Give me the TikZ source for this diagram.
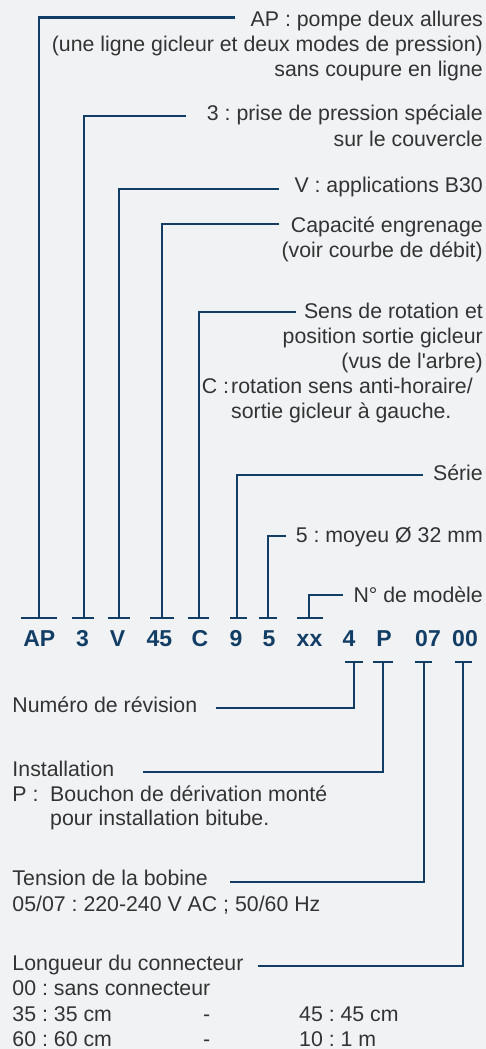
\documentclass[tikz,border=0pt]{standalone}
\usepackage{fontspec}
\setmainfont{Liberation Sans}[Ligatures=TeXOff]
\frenchspacing
\definecolor{bgc}{HTML}{F1F2F4}
\definecolor{navy}{HTML}{123E66}
\definecolor{txt}{HTML}{333333}
\tikzset{
  lead/.style={draw=navy, line width=2.3pt, line join=miter},
  lbl/.style={inner sep=0pt, text=txt, font=\fontsize{21.3}{25}\selectfont\frenchspacing},
  lblr/.style={lbl, anchor=base east},
  lbll/.style={lbl, anchor=base west},
  code/.style={inner sep=0pt, anchor=base, text=navy, font=\fontsize{23}{27}\selectfont\bfseries}
}
\begin{document}
\begin{tikzpicture}[x=1pt,y=-1pt]
\fill[bgc] (0,0) rectangle (486,1049);
\useasboundingbox (0,0) rectangle (486,1049);

% ---- top labels ----
\node[lblr] (lAPa) at (483,26.7) {AP : pompe deux allures};
\node[lblr] (lAPb) at (483,51.7) {(une ligne gicleur et deux modes de pression)};
\node[lblr] (lAPc) at (483,76.7) {sans coupure en ligne};
\node[lblr] (l3a) at (483,120.7) {3 : prise de pression spéciale};
\node[lblr] (l3b) at (483,146.7) {sur le couvercle};
\node[lblr] (lV) at (483,192.7) {V : applications B30};
\node[lblr] (l45a) at (483,232.3) {Capacité engrenage};
\node[lblr] (l45b) at (483,257.3) {(voir courbe de débit)};
\node[lblr] (lCa) at (483,318.3) {Sens de rotation et};
\node[lblr] (lCb) at (483,343.3) {position sortie gicleur};
\node[lblr] (lCc) at (483,368.3) {(vus de l'arbre)};
\node[lbll] (lCd) at (201.7,393.3) {\makebox[29.3pt][l]{C :}rotation sens anti-horaire/};
\node[lbll] (lCe) at (231,418.3) {sortie gicleur à gauche.};
\node[lblr] (l9) at (483,480) {Série};
\node[lblr] (l5) at (483,542.7) {5 : moyeu Ø 32 mm};
\node[lblr] (lxx) at (483,602.7) {N° de modèle};

% ---- code ----
\node[code] (cAP) at (39.3,646.5) {AP};
\node[code] (c3) at (82.5,646.5) {3};
\node[code] (cV) at (117.5,646.5) {V};
\node[code] (c45) at (159.5,646.5) {45};
\node[code] (cC) at (200,646.5) {C};
\node[code] (c9) at (236,646.5) {9};
\node[code] (c5) at (269,646.5) {5};
\node[code] (cxx) at (309.5,646.5) {xx};
\node[code] (c4) at (349,646.5) {4};
\node[code] (cP) at (384,646.5) {P};
\node[code] (c07) at (428,646.5) {07};
\node[code] (c00) at (465,646.5) {00};

% ---- bottom labels ----
\node[lbll] (l4) at (12.3,712.7) {Numéro de révision};
\node[lbll] (lPa) at (12.3,776.7) {Installation};
\node[lbll] (lPb) at (12.3,801) {\makebox[37.7pt][l]{P :}Bouchon de dérivation monté};
\node[lbll] (lPc) at (50,825.5) {pour installation bitube.};
\node[lbll] (l07a) at (12.3,885.7) {Tension de la bobine};
\node[lbll] (l07b) at (12.3,911.2) {05/07 : 220-240 V AC ; 50/60 Hz};
\node[lbll] (l00a) at (12.3,970.7) {Longueur du connecteur};
\node[lbll] (l00b) at (12.3,995.7) {00 : sans connecteur};
\node[lbll] (l00c) at (12.3,1021) {35 : 35 cm};
\node[lbll] (l00d) at (203,1021) {-};
\node[lbll] (l00e) at (299,1021) {45 : 45 cm};
\node[lbll] (l00f) at (12.3,1046) {60 : 60 cm};
\node[lbll] (l00g) at (203,1046) {-};
\node[lbll] (l00h) at (299,1046) {10 : 1 m};

% ---- leader coordinates ----
\coordinate (eAP) at (235,17.5);   \coordinate (bAP) at (39.3,618.3);
\coordinate (e3) at (186,115.7);   \coordinate (b3) at (84,618.3);
\coordinate (eV) at (279,188.7);   \coordinate (bV) at (119,618.3);
\coordinate (e45) at (279,224);    \coordinate (b45) at (162.3,618.3);
\coordinate (eC) at (296,311.7);   \coordinate (bC) at (198.7,618.3);
\coordinate (e9) at (423,475);     \coordinate (b9) at (237,618.3);
\coordinate (e5) at (286,535.7);   \coordinate (b5) at (267.7,618.3);
\coordinate (exx) at (343,595);    \coordinate (bxx) at (309.3,618.3);
\coordinate (e4) at (215.7,708.3); \coordinate (b4) at (354.3,662.3);
\coordinate (eP) at (142.7,771.7); \coordinate (bP) at (383.3,662.3);
\coordinate (e07) at (230,881.7);  \coordinate (b07) at (423.7,662.3);
\coordinate (e00) at (257.7,965.7);\coordinate (b00) at (463.3,662.3);

% ---- leaders ----
\draw[lead] (eAP) -| (bAP);
\draw[lead] (e3) -| (b3);
\draw[lead] (eV) -| (bV);
\draw[lead] (e45) -| (b45);
\draw[lead] (eC) -| (bC);
\draw[lead] (e9) -| (b9);
\draw[lead] (e5) -| (b5);
\draw[lead] (exx) -| (bxx);
\draw[lead] (e4) -| (b4);
\draw[lead] (eP) -| (bP);
\draw[lead] (e07) -| (b07);
\draw[lead] (e00) -| (b00);

% ---- tick bars ----
\draw[lead] ([xshift=-18.2pt]bAP) -- ([xshift=18pt]bAP);
\draw[lead] ([xshift=-12pt]b3) -- ([xshift=10pt]b3);
\draw[lead] ([xshift=-11pt]bV) -- ([xshift=11pt]bV);
\draw[lead] ([xshift=-12.3pt]b45) -- ([xshift=11.7pt]b45);
\draw[lead] ([xshift=-10.7pt]bC) -- ([xshift=10.3pt]bC);
\draw[lead] ([xshift=-7pt]b9) -- ([xshift=10pt]b9);
\draw[lead] ([xshift=-8.7pt]b5) -- ([xshift=9.3pt]b5);
\draw[lead] ([xshift=-12.3pt]bxx) -- ([xshift=13.7pt]bxx);
\draw[lead] ([xshift=-9.3pt]b4) -- ([xshift=8.7pt]b4);
\draw[lead] ([xshift=-10.3pt]bP) -- ([xshift=9.7pt]bP);
\draw[lead] ([xshift=-8.7pt]b07) -- ([xshift=8.3pt]b07);
\draw[lead] ([xshift=-8.3pt]b00) -- ([xshift=8.4pt]b00);
\end{tikzpicture}
\end{document}
